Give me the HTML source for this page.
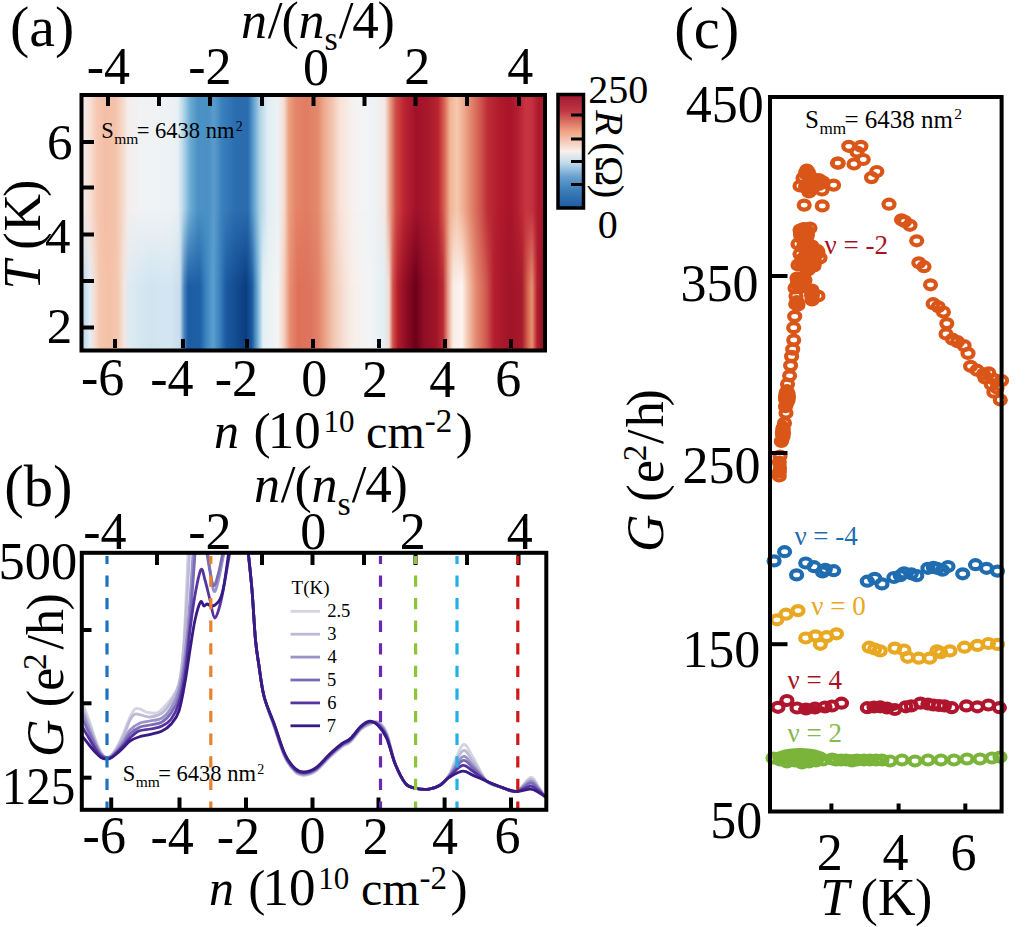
<!DOCTYPE html><html><head><meta charset="utf-8"><style>html,body{margin:0;padding:0;background:#fff;overflow:hidden;width:1025px;height:927px;}svg{display:block;}text{font-family:"Liberation Serif",serif;}</style></head><body><svg width="1025" height="927" viewBox="0 0 1025 927" font-family="Liberation Serif, serif">
<rect width="1025" height="927" fill="#fff"/>
<defs>
<linearGradient id="hu" gradientUnits="userSpaceOnUse" x1="83" y1="0" x2="543" y2="0">
<stop offset="0.0000" stop-color="#f6ece8"/>
<stop offset="0.0152" stop-color="#f8e0d4"/>
<stop offset="0.0304" stop-color="#f6c8b4"/>
<stop offset="0.0478" stop-color="#f4bea6"/>
<stop offset="0.0696" stop-color="#f4c2aa"/>
<stop offset="0.0848" stop-color="#f6d6c6"/>
<stop offset="0.0978" stop-color="#f4eeec"/>
<stop offset="0.1239" stop-color="#f0f2f4"/>
<stop offset="0.1891" stop-color="#eff2f4"/>
<stop offset="0.2065" stop-color="#e6f0f4"/>
<stop offset="0.2174" stop-color="#b8d8ea"/>
<stop offset="0.2326" stop-color="#6cacd4"/>
<stop offset="0.2500" stop-color="#4a92c4"/>
<stop offset="0.2717" stop-color="#4a90c4"/>
<stop offset="0.2848" stop-color="#5a9ccc"/>
<stop offset="0.3022" stop-color="#3a80bc"/>
<stop offset="0.3304" stop-color="#2a6eb0"/>
<stop offset="0.3587" stop-color="#2a6cae"/>
<stop offset="0.3696" stop-color="#5a9ccc"/>
<stop offset="0.3848" stop-color="#b0d4e8"/>
<stop offset="0.4022" stop-color="#e2eef4"/>
<stop offset="0.4239" stop-color="#ecf2f4"/>
<stop offset="0.4370" stop-color="#f4dcd0"/>
<stop offset="0.4478" stop-color="#eca080"/>
<stop offset="0.4630" stop-color="#e4846a"/>
<stop offset="0.4848" stop-color="#e07c62"/>
<stop offset="0.5109" stop-color="#e48a6e"/>
<stop offset="0.5239" stop-color="#ecaa8c"/>
<stop offset="0.5413" stop-color="#f2c4ae"/>
<stop offset="0.5587" stop-color="#f8e2d8"/>
<stop offset="0.5804" stop-color="#f8eeea"/>
<stop offset="0.5978" stop-color="#f4f4f4"/>
<stop offset="0.6348" stop-color="#eef2f6"/>
<stop offset="0.6565" stop-color="#f2e8e4"/>
<stop offset="0.6674" stop-color="#e8a088"/>
<stop offset="0.6804" stop-color="#d04a44"/>
<stop offset="0.6978" stop-color="#bc2432"/>
<stop offset="0.7239" stop-color="#a0122a"/>
<stop offset="0.7500" stop-color="#a8182c"/>
<stop offset="0.7717" stop-color="#b82430"/>
<stop offset="0.7848" stop-color="#d86050"/>
<stop offset="0.7978" stop-color="#f0b494"/>
<stop offset="0.8130" stop-color="#f6c8b0"/>
<stop offset="0.8283" stop-color="#eeaa8c"/>
<stop offset="0.8457" stop-color="#e08068"/>
<stop offset="0.8630" stop-color="#d05a50"/>
<stop offset="0.8804" stop-color="#bc2c36"/>
<stop offset="0.9065" stop-color="#b01a2c"/>
<stop offset="0.9283" stop-color="#a8142a"/>
<stop offset="0.9457" stop-color="#b42030"/>
<stop offset="0.9630" stop-color="#c83440"/>
<stop offset="0.9761" stop-color="#c43040"/>
<stop offset="0.9891" stop-color="#ac1a2c"/>
<stop offset="1.0000" stop-color="#a8182c"/>
</linearGradient>
<linearGradient id="hl" gradientUnits="userSpaceOnUse" x1="83" y1="0" x2="543" y2="0">
<stop offset="0.0000" stop-color="#b8d6ea"/>
<stop offset="0.0152" stop-color="#e4eef4"/>
<stop offset="0.0261" stop-color="#f4dcd0"/>
<stop offset="0.0370" stop-color="#f4c6ac"/>
<stop offset="0.0587" stop-color="#f4c0a6"/>
<stop offset="0.0761" stop-color="#f4c8b0"/>
<stop offset="0.0891" stop-color="#f2e6e2"/>
<stop offset="0.1022" stop-color="#dceaf2"/>
<stop offset="0.1457" stop-color="#d0e4f0"/>
<stop offset="0.1891" stop-color="#d4e6f2"/>
<stop offset="0.2109" stop-color="#c8dcec"/>
<stop offset="0.2196" stop-color="#4a86c0"/>
<stop offset="0.2283" stop-color="#1c5ca4"/>
<stop offset="0.2543" stop-color="#1e60a6"/>
<stop offset="0.2674" stop-color="#3a84c0"/>
<stop offset="0.2826" stop-color="#5aa0d0"/>
<stop offset="0.2978" stop-color="#3a80bc"/>
<stop offset="0.3109" stop-color="#1a5aa0"/>
<stop offset="0.3326" stop-color="#134c90"/>
<stop offset="0.3543" stop-color="#0c3c80"/>
<stop offset="0.3674" stop-color="#1a5aa0"/>
<stop offset="0.3804" stop-color="#7ab4d8"/>
<stop offset="0.3913" stop-color="#e4f0f4"/>
<stop offset="0.4239" stop-color="#f4f4f4"/>
<stop offset="0.4370" stop-color="#f4d0c0"/>
<stop offset="0.4500" stop-color="#e88c72"/>
<stop offset="0.4674" stop-color="#de7058"/>
<stop offset="0.4935" stop-color="#de7460"/>
<stop offset="0.5109" stop-color="#e2806a"/>
<stop offset="0.5283" stop-color="#eca68c"/>
<stop offset="0.5457" stop-color="#f2c8b4"/>
<stop offset="0.5674" stop-color="#f6e0d6"/>
<stop offset="0.5848" stop-color="#f8eee8"/>
<stop offset="0.6239" stop-color="#f2f4f6"/>
<stop offset="0.6543" stop-color="#e2eef4"/>
<stop offset="0.6652" stop-color="#eedcd4"/>
<stop offset="0.6739" stop-color="#d45048"/>
<stop offset="0.6848" stop-color="#b01c2c"/>
<stop offset="0.7022" stop-color="#8e0c24"/>
<stop offset="0.7239" stop-color="#6c0018"/>
<stop offset="0.7413" stop-color="#900e26"/>
<stop offset="0.7674" stop-color="#a01428"/>
<stop offset="0.7826" stop-color="#b82a34"/>
<stop offset="0.7935" stop-color="#e8a088"/>
<stop offset="0.8043" stop-color="#f8ece6"/>
<stop offset="0.8239" stop-color="#fcf4f0"/>
<stop offset="0.8370" stop-color="#f4c4ac"/>
<stop offset="0.8543" stop-color="#e48a72"/>
<stop offset="0.8761" stop-color="#d05a50"/>
<stop offset="0.8935" stop-color="#b41e2e"/>
<stop offset="0.9283" stop-color="#a01428"/>
<stop offset="0.9543" stop-color="#a81a2c"/>
<stop offset="0.9674" stop-color="#d46850"/>
<stop offset="0.9761" stop-color="#e89070"/>
<stop offset="0.9870" stop-color="#b42030"/>
<stop offset="1.0000" stop-color="#901020"/>
</linearGradient>
<linearGradient id="vm" x1="0" y1="0" x2="0" y2="1"><stop offset="0" stop-color="#fff" stop-opacity="0"/><stop offset="0.45" stop-color="#fff" stop-opacity="0"/><stop offset="0.75" stop-color="#fff" stop-opacity="1"/><stop offset="1" stop-color="#fff" stop-opacity="1"/></linearGradient>
<mask id="m1"><rect x="83" y="95" width="460" height="255" fill="url(#vm)"/></mask>
<linearGradient id="cb" x1="0" y1="0" x2="0" y2="1"><stop offset="0" stop-color="#9e1830"/><stop offset="0.15" stop-color="#c03844"/><stop offset="0.32" stop-color="#f0a080"/><stop offset="0.5" stop-color="#f8f0ec"/><stop offset="0.6" stop-color="#c4dcec"/><stop offset="0.72" stop-color="#6aa2d0"/><stop offset="0.85" stop-color="#3a7cb8"/><stop offset="1" stop-color="#1e5aa0"/></linearGradient>
</defs>
<rect x="81" y="95" width="464" height="255" fill="url(#hu)"/>
<rect x="81" y="95" width="464" height="255" fill="url(#hl)" mask="url(#m1)"/>
<rect x="81.5" y="95" width="463.5" height="255.5" fill="none" stroke="#000" stroke-width="4"/>
<line x1="108" y1="97" x2="108" y2="106" stroke="#000" stroke-width="4"/>
<line x1="159" y1="97" x2="159" y2="106" stroke="#000" stroke-width="4"/>
<line x1="210" y1="97" x2="210" y2="106" stroke="#000" stroke-width="4"/>
<line x1="262" y1="97" x2="262" y2="106" stroke="#000" stroke-width="4"/>
<line x1="313.5" y1="97" x2="313.5" y2="106" stroke="#000" stroke-width="4"/>
<line x1="364.5" y1="97" x2="364.5" y2="106" stroke="#000" stroke-width="4"/>
<line x1="415.5" y1="97" x2="415.5" y2="106" stroke="#000" stroke-width="4"/>
<line x1="467" y1="97" x2="467" y2="106" stroke="#000" stroke-width="4"/>
<line x1="519" y1="97" x2="519" y2="106" stroke="#000" stroke-width="4"/>
<line x1="115" y1="348" x2="115" y2="339" stroke="#000" stroke-width="4"/>
<line x1="183" y1="348" x2="183" y2="339" stroke="#000" stroke-width="4"/>
<line x1="247" y1="348" x2="247" y2="339" stroke="#000" stroke-width="4"/>
<line x1="313" y1="348" x2="313" y2="339" stroke="#000" stroke-width="4"/>
<line x1="379" y1="348" x2="379" y2="339" stroke="#000" stroke-width="4"/>
<line x1="445" y1="348" x2="445" y2="339" stroke="#000" stroke-width="4"/>
<line x1="511" y1="348" x2="511" y2="339" stroke="#000" stroke-width="4"/>
<line x1="83" y1="142" x2="94" y2="142" stroke="#000" stroke-width="4"/>
<line x1="83" y1="187.5" x2="94" y2="187.5" stroke="#000" stroke-width="4"/>
<line x1="83" y1="234.5" x2="94" y2="234.5" stroke="#000" stroke-width="4"/>
<line x1="83" y1="281" x2="94" y2="281" stroke="#000" stroke-width="4"/>
<line x1="83" y1="327.5" x2="94" y2="327.5" stroke="#000" stroke-width="4"/>
<rect x="558" y="94.5" width="25.5" height="113.5" fill="url(#cb)" stroke="#000" stroke-width="3.5"/>
<line x1="571" y1="115" x2="583" y2="115" stroke="#000" stroke-width="3"/>
<line x1="571" y1="139" x2="583" y2="139" stroke="#000" stroke-width="3"/>
<line x1="571" y1="161.5" x2="583" y2="161.5" stroke="#000" stroke-width="3"/>
<line x1="571" y1="184.5" x2="583" y2="184.5" stroke="#000" stroke-width="3"/>
<text x="10.1" y="46.1" font-size="57.8" style="" fill="#000" >(a)</text>
<text x="86.8" y="83.7" font-size="52.0" style="" fill="#000" >-4</text>
<text x="188.2" y="83.7" font-size="52.0" style="" fill="#000" >-2</text>
<text x="303.0" y="84.5" font-size="52.0" style="" fill="#000" >0</text>
<text x="404.3" y="84.0" font-size="52.0" style="" fill="#000" >2</text>
<text x="507.3" y="84.0" font-size="52.0" style="" fill="#000" >4</text>
<text x="47.0" y="158.5" font-size="51.0" style="" fill="#000" >6</text>
<text x="45.0" y="252.8" font-size="51.0" style="" fill="#000" >4</text>
<text x="46.7" y="342.6" font-size="51.0" style="" fill="#000" >2</text>
<text x="81.0" y="395.1" font-size="52.0" style="" fill="#000" >-6</text>
<text x="150.2" y="395.6" font-size="52.0" style="" fill="#000" >-4</text>
<text x="214.7" y="395.6" font-size="52.0" style="" fill="#000" >-2</text>
<text x="301.3" y="396.1" font-size="52.0" style="" fill="#000" >0</text>
<text x="362.1" y="396.6" font-size="52.0" style="" fill="#000" >2</text>
<text x="429.2" y="396.6" font-size="52.0" style="" fill="#000" >4</text>
<text x="495.2" y="396.1" font-size="52.0" style="" fill="#000" >6</text>
<text x="588.2" y="102.6" font-size="40.0" style="" fill="#000" >250</text>
<text x="597.8" y="237.6" font-size="40.0" style="" fill="#000" >0</text>
<text x="241.1" y="37.8" font-size="52.0" style="font-style:italic;" fill="#000" >n</text>
<text x="267.8" y="37.8" font-size="53.0" style="" fill="#000" >/</text>
<text x="281.5" y="37.8" font-size="52.0" style="" fill="#000" >(</text>
<text x="298.4" y="37.8" font-size="52.0" style="font-style:italic;" fill="#000" >n</text>
<text x="324.6" y="50.0" font-size="34.0" style="" fill="#000" >s</text>
<text x="338.8" y="37.8" font-size="53.0" style="" fill="#000" >/</text>
<text x="352.2" y="37.8" font-size="53.0" style="" fill="#000" >4</text>
<text x="377.4" y="37.8" font-size="52.0" style="" fill="#000" >)</text>
<text x="214.1" y="447.5" font-size="50.0" style="font-style:italic;" fill="#000" >n</text>
<text x="253.4" y="447.5" font-size="51.5" style="" fill="#000" >(</text>
<text x="267.7" y="447.5" font-size="53.0" style="" fill="#000" >10</text>
<text x="323.5" y="431.6" font-size="31.0" style="" fill="#000" >10</text>
<text x="366.1" y="447.5" font-size="48.0" style="" fill="#000" >cm</text>
<text x="424.8" y="431.6" font-size="33.0" style="" fill="#000" >-2</text>
<text x="455.8" y="447.5" font-size="51.5" style="" fill="#000" >)</text>
<g transform="translate(39.6,289.8) rotate(-90)">
<text x="0.2" y="0.0" font-size="52.0" style="font-style:italic;" fill="#000" >T</text>
<text x="40.1" y="0.0" font-size="52.0" style="" fill="#000" >(</text>
<text x="58.4" y="0.0" font-size="52.0" style="" fill="#000" >K</text>
<text x="92.9" y="0.0" font-size="52.0" style="" fill="#000" >)</text>
</g>
<g transform="translate(596.2,108) rotate(90)">
<text x="2.2" y="0.0" font-size="41.0" style="font-style:italic;" fill="#000" >R</text>
<text x="34.2" y="0.0" font-size="41.0" style="" fill="#000" >(</text>
<text x="48.0" y="0.0" font-size="41.0" style="" fill="#000" >Ω</text>
<text x="76.8" y="0.0" font-size="41.0" style="" fill="#000" >)</text>
</g>
<text x="101.3" y="138.4" font-size="22.5" style="" fill="#000" >S</text>
<text x="114.2" y="143.9" font-size="15.5" style="" fill="#000" >mm</text>
<text x="136.8" y="138.4" font-size="22.5" style="" fill="#000" >= 6438 nm</text>
<text x="235.7" y="130.6" font-size="14.0" style="" fill="#000" >2</text>
<text x="4.3" y="506.0" font-size="58.5" style="" fill="#000" >(b)</text>
<text x="254.1" y="502.3" font-size="52.0" style="font-style:italic;" fill="#000" >n</text>
<text x="280.8" y="502.3" font-size="53.0" style="" fill="#000" >/</text>
<text x="294.5" y="502.3" font-size="52.0" style="" fill="#000" >(</text>
<text x="311.4" y="502.3" font-size="52.0" style="font-style:italic;" fill="#000" >n</text>
<text x="337.6" y="514.5" font-size="34.0" style="" fill="#000" >s</text>
<text x="351.8" y="502.3" font-size="53.0" style="" fill="#000" >/</text>
<text x="365.2" y="502.3" font-size="53.0" style="" fill="#000" >4</text>
<text x="390.4" y="502.3" font-size="52.0" style="" fill="#000" >)</text>
<text x="83.2" y="549.0" font-size="52.0" style="" fill="#000" >-4</text>
<text x="188.2" y="549.0" font-size="52.0" style="" fill="#000" >-2</text>
<text x="300.3" y="548.5" font-size="52.0" style="" fill="#000" >0</text>
<text x="399.7" y="549.0" font-size="52.0" style="" fill="#000" >2</text>
<text x="506.7" y="549.0" font-size="52.0" style="" fill="#000" >4</text>
<text x="-1.4" y="579.3" font-size="52.5" style="" fill="#000" >500</text>
<text transform="translate(1.7,804.1) scale(0.919,1)" font-size="53.5" style="" fill="#000" >125</text>
<text x="82.6" y="853.4" font-size="52.0" style="" fill="#000" >-6</text>
<text x="150.4" y="853.9" font-size="52.0" style="" fill="#000" >-4</text>
<text x="216.7" y="853.9" font-size="52.0" style="" fill="#000" >-2</text>
<text x="299.4" y="853.4" font-size="52.0" style="" fill="#000" >0</text>
<text x="362.7" y="853.9" font-size="52.0" style="" fill="#000" >2</text>
<text x="432.0" y="853.9" font-size="52.0" style="" fill="#000" >4</text>
<text x="494.5" y="853.4" font-size="52.0" style="" fill="#000" >6</text>
<text x="208.9" y="904.9" font-size="50.0" style="font-style:italic;" fill="#000" >n</text>
<text x="248.2" y="904.9" font-size="51.5" style="" fill="#000" >(</text>
<text x="262.5" y="904.9" font-size="53.0" style="" fill="#000" >10</text>
<text x="318.3" y="889.0" font-size="31.0" style="" fill="#000" >10</text>
<text x="360.9" y="904.9" font-size="48.0" style="" fill="#000" >cm</text>
<text x="419.6" y="889.0" font-size="33.0" style="" fill="#000" >-2</text>
<text x="450.6" y="904.9" font-size="51.5" style="" fill="#000" >)</text>
<g transform="translate(62.5,757) rotate(-90)">
<text x="-0.1" y="0.0" font-size="52.0" style="font-style:italic;" fill="#000" >G</text>
<text x="49.7" y="0.0" font-size="52.0" style="" fill="#000" >(</text>
<text x="66.3" y="0.0" font-size="52.0" style="" fill="#000" >e</text>
<text x="87.0" y="-17.0" font-size="33.0" style="" fill="#000" >2</text>
<text x="107.5" y="0.0" font-size="52.0" style="" fill="#000" >/</text>
<text x="121.9" y="0.0" font-size="52.0" style="" fill="#000" >h</text>
<text x="146.4" y="0.0" font-size="52.0" style="" fill="#000" >)</text>
</g>
<text x="122.8" y="781.3" font-size="22.5" style="" fill="#000" >S</text>
<text x="135.7" y="786.8" font-size="15.5" style="" fill="#000" >mm</text>
<text x="158.3" y="781.3" font-size="22.5" style="" fill="#000" >= 6438 nm</text>
<text x="257.2" y="773.5" font-size="14.0" style="" fill="#000" >2</text>
<text x="291.6" y="593.5" font-size="19.0" style="" fill="#000" >T(K)</text>
<line x1="290.5" y1="611.3" x2="320" y2="611.3" stroke="#d4d4e2" stroke-width="2.8"/>
<text x="327.2" y="617.3" font-size="18.5" style="" fill="#000" >2.5</text>
<line x1="290.5" y1="634.2" x2="320" y2="634.2" stroke="#bcbad6" stroke-width="2.8"/>
<text x="327.2" y="640.2" font-size="18.5" style="" fill="#000" >3</text>
<line x1="290.5" y1="657.1" x2="320" y2="657.1" stroke="#9a92c8" stroke-width="2.8"/>
<text x="327.6" y="663.1" font-size="18.5" style="" fill="#000" >4</text>
<line x1="290.5" y1="680.0" x2="320" y2="680.0" stroke="#7a6cb6" stroke-width="2.8"/>
<text x="326.9" y="686.0" font-size="18.5" style="" fill="#000" >5</text>
<line x1="290.5" y1="702.9" x2="320" y2="702.9" stroke="#5634a0" stroke-width="2.8"/>
<text x="327.3" y="708.9" font-size="18.5" style="" fill="#000" >6</text>
<line x1="290.5" y1="725.8" x2="320" y2="725.8" stroke="#381a84" stroke-width="2.8"/>
<text x="326.8" y="731.8" font-size="18.5" style="" fill="#000" >7</text>
<g fill="none" stroke-linejoin="round" stroke-linecap="round">
<path d="M83.0,704.0 C84.2,707.2 87.8,716.8 90.0,723.0 C92.2,729.2 94.2,736.2 96.0,741.0 C97.8,745.8 99.3,749.2 101.0,752.0 C102.7,754.8 104.3,756.9 106.0,757.5 C107.7,758.1 109.2,757.2 111.0,755.5 C112.8,753.8 114.8,750.9 117.0,747.0 C119.2,743.1 121.8,737.0 124.0,732.0 C126.2,727.0 128.2,720.8 130.0,717.0 C131.8,713.2 133.3,710.3 135.0,709.0 C136.7,707.7 138.2,708.5 140.0,709.0 C141.8,709.5 144.0,711.3 146.0,712.0 C148.0,712.7 150.0,712.9 152.0,713.0 C154.0,713.1 155.7,713.8 158.0,712.5 C160.3,711.2 163.2,708.2 166.0,705.0 C168.8,701.8 172.6,697.5 175.0,693.0 C177.4,688.5 178.8,686.8 180.3,678.0 C181.8,669.2 182.7,660.7 184.0,640.0 C185.3,619.3 187.3,568.3 188.0,554.0" stroke="#d4d4e2" stroke-width="2.8"/>
<path d="M248.4,554.0 C249.0,560.0 250.8,575.7 252.0,590.0 C253.2,604.3 254.3,627.3 255.5,640.0 C256.7,652.7 257.6,656.5 259.0,666.0 C260.4,675.5 261.6,686.6 264.2,697.0 C266.8,707.4 271.1,718.0 274.5,728.1 C277.9,738.2 281.4,750.2 284.9,757.5 C288.3,764.8 292.0,769.1 295.2,772.1 C298.4,775.1 300.4,775.6 303.9,775.5 C307.4,775.4 311.7,774.2 316.0,771.2 C320.3,768.2 325.4,761.5 329.7,757.5 C334.0,753.5 338.3,749.7 341.8,747.1 C345.3,744.5 347.3,744.8 350.5,741.9 C353.7,739.0 357.7,732.7 360.8,729.8 C363.9,726.9 366.5,726.0 369.4,724.6 C372.3,723.2 375.1,720.3 378.0,721.7 C380.9,723.0 383.8,725.5 386.7,732.7 C389.6,739.8 392.1,755.8 395.3,764.3 C398.5,772.8 402.2,779.7 405.6,783.7 C409.0,787.7 411.9,787.4 415.8,788.3 C419.7,789.2 425.0,789.6 429.0,789.1 C433.0,788.6 436.6,787.6 440.0,785.2 C443.4,782.8 445.5,781.1 449.3,774.4 C453.1,767.8 458.7,748.1 462.6,745.1 C466.5,742.2 468.7,750.8 472.7,756.8 C476.7,762.9 481.9,776.2 486.8,781.3 C491.8,786.4 497.5,785.9 502.4,787.6 C507.3,789.3 511.7,793.2 516.4,791.5 C521.1,789.8 526.9,778.1 530.5,777.3 C534.1,776.4 536.0,783.1 538.3,786.3 C540.6,789.4 543.5,794.5 544.5,796.2" stroke="#d4d4e2" stroke-width="2.8"/>
<path d="M83.0,709.0 C84.2,712.0 87.8,721.3 90.0,727.0 C92.2,732.7 94.2,738.7 96.0,743.0 C97.8,747.3 99.3,750.6 101.0,753.0 C102.7,755.4 104.3,757.0 106.0,757.5 C107.7,758.0 109.2,757.6 111.0,756.0 C112.8,754.4 114.8,751.5 117.0,748.0 C119.2,744.5 121.8,739.7 124.0,735.0 C126.2,730.3 128.2,723.5 130.0,720.0 C131.8,716.5 133.2,714.8 135.0,714.0 C136.8,713.2 138.5,714.5 141.0,715.0 C143.5,715.5 146.5,717.3 150.0,717.0 C153.5,716.7 158.5,715.5 162.0,713.0 C165.5,710.5 168.2,706.8 171.0,702.0 C173.8,697.2 176.8,693.5 179.0,684.0 C181.2,674.5 182.2,666.7 184.0,645.0 C185.8,623.3 188.6,569.2 189.5,554.0" stroke="#bcbad6" stroke-width="2.8"/>
<path d="M248.4,554.0 C249.0,560.0 250.8,575.7 252.0,590.0 C253.2,604.3 254.3,627.3 255.5,640.0 C256.7,652.7 257.6,656.5 259.0,666.0 C260.4,675.5 261.6,686.8 264.2,697.0 C266.8,707.2 271.1,717.4 274.5,727.4 C277.9,737.4 281.4,749.5 284.9,756.8 C288.3,764.1 292.0,768.4 295.2,771.4 C298.4,774.4 300.4,774.9 303.9,774.8 C307.4,774.6 311.7,773.5 316.0,770.5 C320.3,767.5 325.4,760.8 329.7,756.8 C334.0,752.8 338.3,749.0 341.8,746.4 C345.3,743.8 347.3,744.1 350.5,741.2 C353.7,738.3 357.7,732.0 360.8,729.1 C363.9,726.2 366.5,725.0 369.4,723.9 C372.3,722.8 375.1,720.8 378.0,722.4 C380.9,724.1 383.8,726.8 386.7,733.8 C389.6,740.8 392.1,756.0 395.3,764.3 C398.5,772.6 402.2,779.7 405.6,783.7 C409.0,787.7 411.9,787.4 415.8,788.3 C419.7,789.2 425.0,789.6 429.0,789.1 C433.0,788.6 436.6,787.5 440.0,785.2 C443.4,782.9 445.5,780.8 449.3,775.1 C453.1,769.4 458.7,753.3 462.6,750.9 C466.5,748.6 468.7,755.8 472.7,760.9 C476.7,765.9 481.9,776.8 486.8,781.3 C491.8,785.8 497.5,785.9 502.4,787.6 C507.3,789.3 511.7,792.9 516.4,791.5 C521.1,790.1 526.9,779.9 530.5,779.2 C534.1,778.5 536.0,784.4 538.3,787.3 C540.6,790.1 543.5,794.7 544.5,796.2" stroke="#bcbad6" stroke-width="2.8"/>
<path d="M83.0,714.0 C84.2,716.8 87.8,725.8 90.0,731.0 C92.2,736.2 94.2,741.2 96.0,745.0 C97.8,748.8 99.3,751.9 101.0,754.0 C102.7,756.1 104.3,757.1 106.0,757.5 C107.7,757.9 109.2,757.8 111.0,756.5 C112.8,755.2 114.8,752.8 117.0,750.0 C119.2,747.2 121.8,743.3 124.0,740.0 C126.2,736.7 127.3,732.8 130.0,730.0 C132.7,727.2 136.7,724.5 140.0,723.0 C143.3,721.5 146.3,721.8 150.0,721.0 C153.7,720.2 158.5,720.2 162.0,718.0 C165.5,715.8 168.2,712.7 171.0,708.0 C173.8,703.3 176.7,698.8 179.0,690.0 C181.3,681.2 183.2,670.0 185.0,655.0 C186.8,640.0 188.7,616.8 190.0,600.0 C191.3,583.2 192.5,561.7 193.0,554.0" stroke="#9a92c8" stroke-width="2.8"/>
<path d="M208.0,554.0 C208.9,560.0 211.7,585.3 213.4,590.0 C215.1,594.7 216.3,588.0 218.0,582.0 C219.7,576.0 222.8,558.7 223.8,554.0" stroke="#9a92c8" stroke-width="2.8"/>
<path d="M248.4,554.0 C249.0,560.0 250.8,575.7 252.0,590.0 C253.2,604.3 254.3,627.3 255.5,640.0 C256.7,652.7 257.6,656.5 259.0,666.0 C260.4,675.5 261.6,686.9 264.2,697.0 C266.8,707.1 271.1,716.9 274.5,726.7 C277.9,736.6 281.4,748.8 284.9,756.1 C288.3,763.4 292.0,767.7 295.2,770.7 C298.4,773.7 300.4,774.2 303.9,774.1 C307.4,774.0 311.7,772.8 316.0,769.8 C320.3,766.8 325.4,760.1 329.7,756.1 C334.0,752.1 338.3,748.3 341.8,745.7 C345.3,743.1 347.3,743.4 350.5,740.5 C353.7,737.6 357.7,731.3 360.8,728.4 C363.9,725.5 366.5,724.1 369.4,723.2 C372.3,722.3 375.1,721.2 378.0,723.2 C380.9,725.1 383.8,728.1 386.7,735.0 C389.6,741.8 392.1,756.2 395.3,764.3 C398.5,772.4 402.2,779.7 405.6,783.7 C409.0,787.7 411.9,787.4 415.8,788.3 C419.7,789.2 425.0,789.6 429.0,789.1 C433.0,788.6 436.6,787.4 440.0,785.2 C443.4,783.0 445.5,780.5 449.3,775.8 C453.1,771.0 458.7,758.5 462.6,756.7 C466.5,754.9 468.7,760.9 472.7,764.9 C476.7,769.0 481.9,777.5 486.8,781.3 C491.8,785.1 497.5,785.9 502.4,787.6 C507.3,789.3 511.7,792.6 516.4,791.5 C521.1,790.4 526.9,781.8 530.5,781.2 C534.1,780.7 536.0,785.8 538.3,788.2 C540.6,790.7 543.5,794.9 544.5,796.2" stroke="#9a92c8" stroke-width="2.8"/>
<path d="M83.0,720.0 C84.2,722.5 87.8,730.5 90.0,735.0 C92.2,739.5 94.2,743.7 96.0,747.0 C97.8,750.3 99.3,753.2 101.0,755.0 C102.7,756.8 104.3,757.7 106.0,758.0 C107.7,758.3 109.2,758.1 111.0,757.0 C112.8,755.9 114.8,753.8 117.0,751.5 C119.2,749.2 121.8,745.9 124.0,743.0 C126.2,740.1 127.3,736.7 130.0,734.0 C132.7,731.3 136.6,728.5 140.0,727.0 C143.4,725.5 146.8,725.8 150.5,725.0 C154.2,724.2 158.6,724.0 162.0,722.0 C165.4,720.0 168.2,717.2 171.0,713.0 C173.8,708.8 176.7,705.0 179.0,697.0 C181.3,689.0 183.2,677.8 185.0,665.0 C186.8,652.2 188.3,638.5 190.0,620.0 C191.7,601.5 194.2,565.0 195.0,554.0" stroke="#7a6cb6" stroke-width="2.8"/>
<path d="M207.0,554.0 C208.0,559.2 211.2,581.5 213.0,585.0 C214.8,588.5 216.4,580.2 218.0,575.0 C219.6,569.8 221.8,557.5 222.5,554.0" stroke="#7a6cb6" stroke-width="2.8"/>
<path d="M248.4,554.0 C249.0,560.0 250.8,575.7 252.0,590.0 C253.2,604.3 254.3,627.3 255.5,640.0 C256.7,652.7 257.6,656.5 259.0,666.0 C260.4,675.5 261.6,687.0 264.2,697.0 C266.8,707.0 271.1,716.3 274.5,726.0 C277.9,735.7 281.4,748.1 284.9,755.4 C288.3,762.7 292.0,767.0 295.2,770.0 C298.4,773.0 300.4,773.5 303.9,773.4 C307.4,773.2 311.7,772.1 316.0,769.1 C320.3,766.1 325.4,759.4 329.7,755.4 C334.0,751.4 338.3,747.6 341.8,745.0 C345.3,742.4 347.3,742.7 350.5,739.8 C353.7,736.9 357.7,730.6 360.8,727.7 C363.9,724.8 366.5,723.1 369.4,722.5 C372.3,721.9 375.1,721.6 378.0,723.9 C380.9,726.2 383.8,729.4 386.7,736.1 C389.6,742.8 392.1,756.4 395.3,764.3 C398.5,772.2 402.2,779.7 405.6,783.7 C409.0,787.7 411.9,787.4 415.8,788.3 C419.7,789.2 425.0,789.6 429.0,789.1 C433.0,788.6 436.6,787.4 440.0,785.2 C443.4,783.0 445.5,780.3 449.3,776.2 C453.1,772.1 458.7,762.0 462.6,760.6 C466.5,759.2 468.7,764.2 472.7,767.7 C476.7,771.1 481.9,778.0 486.8,781.3 C491.8,784.6 497.5,785.9 502.4,787.6 C507.3,789.3 511.7,792.2 516.4,791.5 C521.1,790.8 526.9,783.6 530.5,783.2 C534.1,782.8 536.0,787.1 538.3,789.2 C540.6,791.4 543.5,795.0 544.5,796.2" stroke="#7a6cb6" stroke-width="2.8"/>
<path d="M83.0,728.0 C84.2,730.0 87.8,736.3 90.0,740.0 C92.2,743.7 94.2,747.3 96.0,750.0 C97.8,752.7 99.3,754.6 101.0,756.0 C102.7,757.4 104.3,758.2 106.0,758.5 C107.7,758.8 109.2,758.5 111.0,757.5 C112.8,756.5 114.8,754.6 117.0,752.5 C119.2,750.4 121.8,747.4 124.0,745.0 C126.2,742.6 127.5,740.3 130.0,738.0 C132.5,735.7 135.4,732.5 138.8,731.0 C142.2,729.5 146.6,729.8 150.5,729.0 C154.4,728.2 158.6,727.7 162.0,726.0 C165.4,724.3 168.4,722.8 171.2,719.0 C174.0,715.2 176.6,710.8 179.0,703.0 C181.4,695.2 183.6,684.2 185.4,672.0 C187.2,659.8 188.4,642.8 190.0,630.0 C191.6,617.2 193.2,605.1 195.0,595.0 C196.8,584.9 199.3,572.1 201.0,569.6 C202.7,567.1 203.5,574.9 205.0,580.0 C206.5,585.1 208.4,593.7 210.0,600.0 C211.6,606.3 212.9,617.5 214.7,618.0 C216.4,618.5 218.8,609.3 220.5,603.0 C222.2,596.7 223.5,588.2 225.0,580.0 C226.5,571.8 228.8,558.3 229.5,554.0" stroke="#5634a0" stroke-width="2.8"/>
<path d="M248.4,554.0 C249.0,560.0 250.8,575.7 252.0,590.0 C253.2,604.3 254.3,627.3 255.5,640.0 C256.7,652.7 257.6,656.5 259.0,666.0 C260.4,675.5 261.6,687.1 264.2,697.0 C266.8,706.9 271.1,715.7 274.5,725.3 C277.9,734.9 281.4,747.4 284.9,754.7 C288.3,762.0 292.0,766.3 295.2,769.3 C298.4,772.3 300.4,772.9 303.9,772.7 C307.4,772.6 311.7,771.4 316.0,768.4 C320.3,765.4 325.4,758.7 329.7,754.7 C334.0,750.7 338.3,746.9 341.8,744.3 C345.3,741.7 347.3,742.0 350.5,739.1 C353.7,736.2 357.7,729.9 360.8,727.0 C363.9,724.1 366.5,722.2 369.4,721.8 C372.3,721.4 375.1,722.1 378.0,724.7 C380.9,727.2 383.8,730.6 386.7,737.3 C389.6,743.9 392.1,756.6 395.3,764.3 C398.5,772.0 402.2,779.7 405.6,783.7 C409.0,787.7 411.9,787.4 415.8,788.3 C419.7,789.2 425.0,789.6 429.0,789.1 C433.0,788.6 436.6,787.3 440.0,785.2 C443.4,783.1 445.5,780.0 449.3,776.7 C453.1,773.4 458.7,766.4 462.6,765.4 C466.5,764.5 468.7,768.4 472.7,771.0 C476.7,773.7 481.9,778.5 486.8,781.3 C491.8,784.1 497.5,785.9 502.4,787.6 C507.3,789.3 511.7,791.7 516.4,791.5 C521.1,791.3 526.9,786.3 530.5,786.1 C534.1,786.0 536.0,789.0 538.3,790.7 C540.6,792.4 543.5,795.3 544.5,796.2" stroke="#5634a0" stroke-width="2.8"/>
<path d="M83.0,737.0 C84.2,738.5 87.8,743.3 90.0,746.0 C92.2,748.7 94.2,751.1 96.0,753.0 C97.8,754.9 99.3,756.5 101.0,757.5 C102.7,758.5 104.3,758.9 106.0,759.0 C107.7,759.1 109.2,758.9 111.0,758.0 C112.8,757.1 114.8,755.3 117.0,753.5 C119.2,751.7 121.8,749.1 124.0,747.0 C126.2,744.9 127.5,742.7 130.0,741.0 C132.5,739.3 135.4,738.1 138.8,737.0 C142.2,735.9 146.6,735.4 150.5,734.4 C154.4,733.4 158.6,732.7 162.0,731.0 C165.4,729.3 168.4,727.3 171.2,724.0 C174.0,720.7 176.6,718.3 179.0,711.0 C181.4,703.7 183.6,690.2 185.4,680.0 C187.2,669.8 188.4,660.0 190.0,650.0 C191.6,640.0 193.2,628.0 195.0,620.0 C196.8,612.0 199.0,604.3 200.5,602.0 C202.0,599.7 202.9,605.7 204.0,606.0 C205.1,606.3 205.8,604.0 207.0,604.0 C208.2,604.0 209.7,605.8 211.0,606.0 C212.3,606.2 213.5,606.1 215.0,605.0 C216.5,603.9 218.5,602.7 220.0,599.4 C221.5,596.1 222.6,592.6 224.0,585.0 C225.4,577.4 227.8,559.2 228.5,554.0" stroke="#381a84" stroke-width="2.8"/>
<path d="M248.4,554.0 C249.0,560.0 250.8,575.7 252.0,590.0 C253.2,604.3 254.3,627.3 255.5,640.0 C256.7,652.7 257.6,656.5 259.0,666.0 C260.4,675.5 261.6,687.2 264.2,697.0 C266.8,706.8 271.1,715.1 274.5,724.6 C277.9,734.1 281.4,746.7 284.9,754.0 C288.3,761.3 292.0,765.6 295.2,768.6 C298.4,771.6 300.4,772.1 303.9,772.0 C307.4,771.9 311.7,770.7 316.0,767.7 C320.3,764.7 325.4,758.0 329.7,754.0 C334.0,750.0 338.3,746.2 341.8,743.6 C345.3,741.0 347.3,741.3 350.5,738.4 C353.7,735.5 357.7,729.2 360.8,726.3 C363.9,723.4 366.5,721.2 369.4,721.1 C372.3,721.0 375.1,722.5 378.0,725.4 C380.9,728.3 383.8,731.9 386.7,738.4 C389.6,744.9 392.1,756.8 395.3,764.3 C398.5,771.8 402.2,779.7 405.6,783.7 C409.0,787.7 411.9,787.4 415.8,788.3 C419.7,789.2 425.0,789.6 429.0,789.1 C433.0,788.6 436.6,787.2 440.0,785.2 C443.4,783.2 445.5,779.7 449.3,777.4 C453.1,775.1 458.7,771.6 462.6,771.2 C466.5,770.8 468.7,773.4 472.7,775.1 C476.7,776.8 481.9,779.2 486.8,781.3 C491.8,783.4 497.5,785.9 502.4,787.6 C507.3,789.3 511.7,791.2 516.4,791.5 C521.1,791.8 526.9,789.0 530.5,789.1 C534.1,789.2 536.0,791.0 538.3,792.2 C540.6,793.4 543.5,795.5 544.5,796.2" stroke="#381a84" stroke-width="2.8"/>
</g>
<line x1="157" y1="554" x2="157" y2="565" stroke="#000" stroke-width="4"/>
<line x1="262" y1="554" x2="262" y2="565" stroke="#000" stroke-width="4"/>
<line x1="312.5" y1="554" x2="312.5" y2="565" stroke="#000" stroke-width="4"/>
<line x1="364" y1="554" x2="364" y2="565" stroke="#000" stroke-width="4"/>
<line x1="415.5" y1="554" x2="415.5" y2="565" stroke="#000" stroke-width="4"/>
<line x1="467" y1="554" x2="467" y2="565" stroke="#000" stroke-width="4"/>
<line x1="518.5" y1="554" x2="518.5" y2="565" stroke="#000" stroke-width="4"/>
<line x1="111.2" y1="808" x2="111.2" y2="797.5" stroke="#000" stroke-width="4"/>
<line x1="179.5" y1="808" x2="179.5" y2="797.5" stroke="#000" stroke-width="4"/>
<line x1="246" y1="808" x2="246" y2="797.5" stroke="#000" stroke-width="4"/>
<line x1="312.5" y1="808" x2="312.5" y2="797.5" stroke="#000" stroke-width="4"/>
<line x1="378.5" y1="808" x2="378.5" y2="797.5" stroke="#000" stroke-width="4"/>
<line x1="444.6" y1="808" x2="444.6" y2="797.5" stroke="#000" stroke-width="4"/>
<line x1="511" y1="808" x2="511" y2="797.5" stroke="#000" stroke-width="4"/>
<line x1="83" y1="630" x2="91.5" y2="630" stroke="#000" stroke-width="4"/>
<line x1="83" y1="703.3" x2="91.5" y2="703.3" stroke="#000" stroke-width="4"/>
<line x1="83" y1="777.7" x2="91.5" y2="777.7" stroke="#000" stroke-width="4"/>
<line x1="107" y1="556" x2="107" y2="808" stroke="#1a72c0" stroke-width="3.2" stroke-dasharray="11.3 11.3" stroke-dashoffset="3.2"/>
<line x1="210.8" y1="556" x2="210.8" y2="808" stroke="#e8822e" stroke-width="3.2" stroke-dasharray="11.3 11.3" stroke-dashoffset="3.2"/>
<line x1="380.5" y1="556" x2="380.5" y2="808" stroke="#6a2ab0" stroke-width="3.2" stroke-dasharray="11.3 11.3" stroke-dashoffset="3.2"/>
<line x1="415.6" y1="556" x2="415.6" y2="808" stroke="#8cc43c" stroke-width="3.2" stroke-dasharray="11.3 11.3" stroke-dashoffset="3.2"/>
<line x1="457" y1="556" x2="457" y2="808" stroke="#22b0e6" stroke-width="3.2" stroke-dasharray="11.3 11.3" stroke-dashoffset="3.2"/>
<line x1="517.8" y1="556" x2="517.8" y2="808" stroke="#d01818" stroke-width="3.2" stroke-dasharray="11.3 11.3" stroke-dashoffset="3.2"/>
<rect x="81.8" y="552.8" width="464.5" height="257" fill="none" stroke="#000" stroke-width="4"/>
<text x="674.3" y="47.5" font-size="58.5" style="" fill="#000" >(c)</text>
<text x="685.7" y="122.4" font-size="52.0" style="" fill="#000" >450</text>
<text x="680.4" y="300.9" font-size="52.0" style="" fill="#000" >350</text>
<text x="682.5" y="483.1" font-size="52.0" style="" fill="#000" >250</text>
<text x="682.2" y="666.5" font-size="52.0" style="" fill="#000" >150</text>
<text x="710.3" y="837.8" font-size="52.0" style="" fill="#000" >50</text>
<text x="816.7" y="870.2" font-size="52.0" style="" fill="#000" >2</text>
<text x="882.4" y="870.2" font-size="52.0" style="" fill="#000" >4</text>
<text x="950.4" y="869.5" font-size="52.0" style="" fill="#000" >6</text>
<g transform="translate(820.7,914.5)">
<text x="-0.4" y="0.0" font-size="52.0" style="font-style:italic;" fill="#000" >T</text>
<text x="39.7" y="0.0" font-size="52.0" style="" fill="#000" >(</text>
<text x="57.4" y="0.0" font-size="52.0" style="" fill="#000" >K</text>
<text x="94.4" y="0.0" font-size="52.0" style="" fill="#000" >)</text>
</g>
<g transform="translate(662.6,551.8) rotate(-90)">
<text x="-0.1" y="0.0" font-size="52.0" style="font-style:italic;" fill="#000" >G</text>
<text x="50.1" y="0.0" font-size="52.0" style="" fill="#000" >(</text>
<text x="68.7" y="0.0" font-size="52.0" style="" fill="#000" >e</text>
<text x="90.5" y="-17.0" font-size="33.0" style="" fill="#000" >2</text>
<text x="107.8" y="0.0" font-size="52.0" style="" fill="#000" >/</text>
<text x="124.5" y="0.0" font-size="52.0" style="" fill="#000" >h</text>
<text x="145.2" y="0.0" font-size="52.0" style="" fill="#000" >)</text>
</g>
<text x="805.1" y="128.1" font-size="25.0" style="" fill="#000" >S</text>
<text x="819.4" y="134.2" font-size="17.2" style="" fill="#000" >mm</text>
<text x="844.5" y="128.1" font-size="25.0" style="" fill="#000" >= 6438 nm</text>
<text x="954.3" y="119.4" font-size="15.6" style="" fill="#000" >2</text>
<ellipse cx="807" cy="173" rx="9" ry="8" fill="#da5618"/>
<ellipse cx="819" cy="182" rx="9" ry="9" fill="#da5618"/>
<ellipse cx="808" cy="187" rx="10" ry="8" fill="#da5618"/>
<ellipse cx="804" cy="234" rx="11" ry="12" fill="#da5618"/>
<ellipse cx="818" cy="252" rx="7" ry="8" fill="#da5618"/>
<ellipse cx="808" cy="262" rx="14" ry="12" fill="#da5618"/>
<ellipse cx="806" cy="247" rx="10" ry="8" fill="#da5618"/>
<ellipse cx="800" cy="283" rx="10" ry="11" fill="#da5618"/>
<ellipse cx="812" cy="295" rx="8" ry="9" fill="#da5618"/>
<ellipse cx="797" cy="303" rx="8" ry="8" fill="#da5618"/>
<ellipse cx="787" cy="397" rx="9" ry="13" fill="#da5618"/>
<ellipse cx="783" cy="433" rx="8" ry="13" fill="#da5618"/>
<ellipse cx="780" cy="468" rx="7" ry="10" fill="#da5618"/>
<ellipse cx="800" cy="757" rx="28" ry="9" fill="#7ab43a"/>
<ellipse cx="856" cy="759" rx="24" ry="5" fill="#7ab43a"/>
<ellipse cx="812" cy="709" rx="14" ry="4" fill="#b0152e"/>
<ellipse cx="884" cy="708" rx="15" ry="4" fill="#b0152e"/>
<g>
<ellipse cx="848.8" cy="146.3" rx="5.5" ry="4.5" fill="none" stroke="#da5618" stroke-width="4.2"/>
<ellipse cx="860.9" cy="146.3" rx="5.5" ry="4.5" fill="none" stroke="#da5618" stroke-width="4.2"/>
<ellipse cx="837.5" cy="163.0" rx="5.5" ry="4.5" fill="none" stroke="#da5618" stroke-width="4.2"/>
<ellipse cx="854.0" cy="164.0" rx="5.5" ry="4.5" fill="none" stroke="#da5618" stroke-width="4.2"/>
<ellipse cx="863.2" cy="159.5" rx="5.5" ry="4.5" fill="none" stroke="#da5618" stroke-width="4.2"/>
<ellipse cx="857.0" cy="152.0" rx="5.5" ry="4.5" fill="none" stroke="#da5618" stroke-width="4.2"/>
<ellipse cx="876.8" cy="171.5" rx="5.5" ry="4.5" fill="none" stroke="#da5618" stroke-width="4.2"/>
<ellipse cx="871.5" cy="177.6" rx="5.5" ry="4.5" fill="none" stroke="#da5618" stroke-width="4.2"/>
<ellipse cx="889.0" cy="204.2" rx="5.5" ry="4.5" fill="none" stroke="#da5618" stroke-width="4.2"/>
<ellipse cx="901.5" cy="219.8" rx="5.5" ry="4.5" fill="none" stroke="#da5618" stroke-width="4.2"/>
<ellipse cx="910.0" cy="225.3" rx="5.5" ry="4.5" fill="none" stroke="#da5618" stroke-width="4.2"/>
<ellipse cx="916.7" cy="240.8" rx="5.5" ry="4.5" fill="none" stroke="#da5618" stroke-width="4.2"/>
<ellipse cx="833.6" cy="185.1" rx="5.5" ry="4.5" fill="none" stroke="#da5618" stroke-width="4.2"/>
<ellipse cx="838.2" cy="163.2" rx="5.5" ry="4.5" fill="none" stroke="#da5618" stroke-width="4.2"/>
<ellipse cx="804.2" cy="205.1" rx="5.5" ry="4.5" fill="none" stroke="#da5618" stroke-width="4.2"/>
<ellipse cx="822.3" cy="205.9" rx="5.5" ry="4.5" fill="none" stroke="#da5618" stroke-width="4.2"/>
<ellipse cx="806.8" cy="170.0" rx="5.5" ry="4.5" fill="none" stroke="#da5618" stroke-width="4.2"/>
<ellipse cx="803.0" cy="178.0" rx="5.5" ry="4.5" fill="none" stroke="#da5618" stroke-width="4.2"/>
<ellipse cx="810.0" cy="176.0" rx="5.5" ry="4.5" fill="none" stroke="#da5618" stroke-width="4.2"/>
<ellipse cx="818.0" cy="180.0" rx="5.5" ry="4.5" fill="none" stroke="#da5618" stroke-width="4.2"/>
<ellipse cx="823.0" cy="182.0" rx="5.5" ry="4.5" fill="none" stroke="#da5618" stroke-width="4.2"/>
<ellipse cx="806.0" cy="186.0" rx="5.5" ry="4.5" fill="none" stroke="#da5618" stroke-width="4.2"/>
<ellipse cx="814.0" cy="186.0" rx="5.5" ry="4.5" fill="none" stroke="#da5618" stroke-width="4.2"/>
<ellipse cx="809.0" cy="192.0" rx="5.5" ry="4.5" fill="none" stroke="#da5618" stroke-width="4.2"/>
<ellipse cx="800.0" cy="186.0" rx="5.5" ry="4.5" fill="none" stroke="#da5618" stroke-width="4.2"/>
<ellipse cx="822.0" cy="190.0" rx="5.5" ry="4.5" fill="none" stroke="#da5618" stroke-width="4.2"/>
<ellipse cx="800.0" cy="230.0" rx="5.5" ry="4.5" fill="none" stroke="#da5618" stroke-width="4.2"/>
<ellipse cx="810.0" cy="228.0" rx="5.5" ry="4.5" fill="none" stroke="#da5618" stroke-width="4.2"/>
<ellipse cx="806.0" cy="238.0" rx="5.5" ry="4.5" fill="none" stroke="#da5618" stroke-width="4.2"/>
<ellipse cx="798.0" cy="244.0" rx="5.5" ry="4.5" fill="none" stroke="#da5618" stroke-width="4.2"/>
<ellipse cx="812.0" cy="246.0" rx="5.5" ry="4.5" fill="none" stroke="#da5618" stroke-width="4.2"/>
<ellipse cx="818.0" cy="252.0" rx="5.5" ry="4.5" fill="none" stroke="#da5618" stroke-width="4.2"/>
<ellipse cx="820.0" cy="258.0" rx="5.5" ry="4.5" fill="none" stroke="#da5618" stroke-width="4.2"/>
<ellipse cx="800.0" cy="254.0" rx="5.5" ry="4.5" fill="none" stroke="#da5618" stroke-width="4.2"/>
<ellipse cx="806.0" cy="262.0" rx="5.5" ry="4.5" fill="none" stroke="#da5618" stroke-width="4.2"/>
<ellipse cx="814.0" cy="266.0" rx="5.5" ry="4.5" fill="none" stroke="#da5618" stroke-width="4.2"/>
<ellipse cx="808.0" cy="270.0" rx="5.5" ry="4.5" fill="none" stroke="#da5618" stroke-width="4.2"/>
<ellipse cx="798.0" cy="265.0" rx="5.5" ry="4.5" fill="none" stroke="#da5618" stroke-width="4.2"/>
<ellipse cx="797.0" cy="278.0" rx="5.5" ry="4.5" fill="none" stroke="#da5618" stroke-width="4.2"/>
<ellipse cx="805.0" cy="280.0" rx="5.5" ry="4.5" fill="none" stroke="#da5618" stroke-width="4.2"/>
<ellipse cx="795.0" cy="288.0" rx="5.5" ry="4.5" fill="none" stroke="#da5618" stroke-width="4.2"/>
<ellipse cx="812.0" cy="290.0" rx="5.5" ry="4.5" fill="none" stroke="#da5618" stroke-width="4.2"/>
<ellipse cx="818.0" cy="296.0" rx="5.5" ry="4.5" fill="none" stroke="#da5618" stroke-width="4.2"/>
<ellipse cx="812.0" cy="300.0" rx="5.5" ry="4.5" fill="none" stroke="#da5618" stroke-width="4.2"/>
<ellipse cx="796.0" cy="296.0" rx="5.5" ry="4.5" fill="none" stroke="#da5618" stroke-width="4.2"/>
<ellipse cx="798.0" cy="305.0" rx="5.5" ry="4.5" fill="none" stroke="#da5618" stroke-width="4.2"/>
<ellipse cx="795.7" cy="304.0" rx="5.5" ry="4.5" fill="none" stroke="#da5618" stroke-width="4.2"/>
<ellipse cx="794.7" cy="316.4" rx="5.5" ry="4.5" fill="none" stroke="#da5618" stroke-width="4.2"/>
<ellipse cx="793.7" cy="327.7" rx="5.5" ry="4.5" fill="none" stroke="#da5618" stroke-width="4.2"/>
<ellipse cx="793.7" cy="340.0" rx="5.5" ry="4.5" fill="none" stroke="#da5618" stroke-width="4.2"/>
<ellipse cx="792.7" cy="349.2" rx="5.5" ry="4.5" fill="none" stroke="#da5618" stroke-width="4.2"/>
<ellipse cx="791.6" cy="356.4" rx="5.5" ry="4.5" fill="none" stroke="#da5618" stroke-width="4.2"/>
<ellipse cx="790.6" cy="365.6" rx="5.5" ry="4.5" fill="none" stroke="#da5618" stroke-width="4.2"/>
<ellipse cx="789.6" cy="375.8" rx="5.5" ry="4.5" fill="none" stroke="#da5618" stroke-width="4.2"/>
<ellipse cx="787.5" cy="384.0" rx="5.5" ry="4.5" fill="none" stroke="#da5618" stroke-width="4.2"/>
<ellipse cx="786.5" cy="392.2" rx="5.5" ry="4.5" fill="none" stroke="#da5618" stroke-width="4.2"/>
<ellipse cx="785.5" cy="398.4" rx="5.5" ry="4.5" fill="none" stroke="#da5618" stroke-width="4.2"/>
<ellipse cx="785.5" cy="406.6" rx="5.5" ry="4.5" fill="none" stroke="#da5618" stroke-width="4.2"/>
<ellipse cx="784.5" cy="423.0" rx="5.5" ry="4.5" fill="none" stroke="#da5618" stroke-width="4.2"/>
<ellipse cx="782.4" cy="433.2" rx="5.5" ry="4.5" fill="none" stroke="#da5618" stroke-width="4.2"/>
<ellipse cx="781.4" cy="441.4" rx="5.5" ry="4.5" fill="none" stroke="#da5618" stroke-width="4.2"/>
<ellipse cx="779.3" cy="462.0" rx="5.5" ry="4.5" fill="none" stroke="#da5618" stroke-width="4.2"/>
<ellipse cx="779.3" cy="472.0" rx="5.5" ry="4.5" fill="none" stroke="#da5618" stroke-width="4.2"/>
<ellipse cx="779.3" cy="476.0" rx="5.5" ry="4.5" fill="none" stroke="#da5618" stroke-width="4.2"/>
<ellipse cx="786.0" cy="413.0" rx="5.5" ry="4.5" fill="none" stroke="#da5618" stroke-width="4.2"/>
<ellipse cx="783.0" cy="428.0" rx="5.5" ry="4.5" fill="none" stroke="#da5618" stroke-width="4.2"/>
<ellipse cx="780.0" cy="456.0" rx="5.5" ry="4.5" fill="none" stroke="#da5618" stroke-width="4.2"/>
<ellipse cx="904.6" cy="221.4" rx="5.5" ry="4.5" fill="none" stroke="#da5618" stroke-width="4.2"/>
<ellipse cx="918.8" cy="262.8" rx="5.5" ry="4.5" fill="none" stroke="#da5618" stroke-width="4.2"/>
<ellipse cx="924.0" cy="266.7" rx="5.5" ry="4.5" fill="none" stroke="#da5618" stroke-width="4.2"/>
<ellipse cx="930.5" cy="284.8" rx="5.5" ry="4.5" fill="none" stroke="#da5618" stroke-width="4.2"/>
<ellipse cx="933.1" cy="303.7" rx="5.5" ry="4.5" fill="none" stroke="#da5618" stroke-width="4.2"/>
<ellipse cx="938.2" cy="306.8" rx="5.5" ry="4.5" fill="none" stroke="#da5618" stroke-width="4.2"/>
<ellipse cx="943.4" cy="312.0" rx="5.5" ry="4.5" fill="none" stroke="#da5618" stroke-width="4.2"/>
<ellipse cx="946.8" cy="323.6" rx="5.5" ry="4.5" fill="none" stroke="#da5618" stroke-width="4.2"/>
<ellipse cx="946.0" cy="334.0" rx="5.5" ry="4.5" fill="none" stroke="#da5618" stroke-width="4.2"/>
<ellipse cx="952.5" cy="339.2" rx="5.5" ry="4.5" fill="none" stroke="#da5618" stroke-width="4.2"/>
<ellipse cx="957.6" cy="341.7" rx="5.5" ry="4.5" fill="none" stroke="#da5618" stroke-width="4.2"/>
<ellipse cx="964.1" cy="345.6" rx="5.5" ry="4.5" fill="none" stroke="#da5618" stroke-width="4.2"/>
<ellipse cx="968.0" cy="353.4" rx="5.5" ry="4.5" fill="none" stroke="#da5618" stroke-width="4.2"/>
<ellipse cx="970.6" cy="366.3" rx="5.5" ry="4.5" fill="none" stroke="#da5618" stroke-width="4.2"/>
<ellipse cx="977.0" cy="370.2" rx="5.5" ry="4.5" fill="none" stroke="#da5618" stroke-width="4.2"/>
<ellipse cx="983.5" cy="374.1" rx="5.5" ry="4.5" fill="none" stroke="#da5618" stroke-width="4.2"/>
<ellipse cx="988.7" cy="372.8" rx="5.5" ry="4.5" fill="none" stroke="#da5618" stroke-width="4.2"/>
<ellipse cx="993.9" cy="379.3" rx="5.5" ry="4.5" fill="none" stroke="#da5618" stroke-width="4.2"/>
<ellipse cx="991.3" cy="384.4" rx="5.5" ry="4.5" fill="none" stroke="#da5618" stroke-width="4.2"/>
<ellipse cx="993.9" cy="392.2" rx="5.5" ry="4.5" fill="none" stroke="#da5618" stroke-width="4.2"/>
<ellipse cx="1000.3" cy="400.0" rx="5.5" ry="4.5" fill="none" stroke="#da5618" stroke-width="4.2"/>
<ellipse cx="1001.6" cy="380.6" rx="5.5" ry="4.5" fill="none" stroke="#da5618" stroke-width="4.2"/>
<ellipse cx="997.0" cy="388.0" rx="5.5" ry="4.5" fill="none" stroke="#da5618" stroke-width="4.2"/>
<ellipse cx="985.0" cy="378.0" rx="5.5" ry="4.5" fill="none" stroke="#da5618" stroke-width="4.2"/>
<ellipse cx="774.1" cy="560.9" rx="5.5" ry="4.5" fill="none" stroke="#1f6cb0" stroke-width="4.2"/>
<ellipse cx="784.6" cy="551.7" rx="5.5" ry="4.5" fill="none" stroke="#1f6cb0" stroke-width="4.2"/>
<ellipse cx="796.6" cy="574.9" rx="5.5" ry="4.5" fill="none" stroke="#1f6cb0" stroke-width="4.2"/>
<ellipse cx="805.7" cy="563.0" rx="5.5" ry="4.5" fill="none" stroke="#1f6cb0" stroke-width="4.2"/>
<ellipse cx="814.0" cy="566.7" rx="5.5" ry="4.5" fill="none" stroke="#1f6cb0" stroke-width="4.2"/>
<ellipse cx="822.5" cy="572.0" rx="5.5" ry="4.5" fill="none" stroke="#1f6cb0" stroke-width="4.2"/>
<ellipse cx="825.3" cy="569.3" rx="5.5" ry="4.5" fill="none" stroke="#1f6cb0" stroke-width="4.2"/>
<ellipse cx="833.7" cy="570.7" rx="5.5" ry="4.5" fill="none" stroke="#1f6cb0" stroke-width="4.2"/>
<ellipse cx="867.3" cy="581.2" rx="5.5" ry="4.5" fill="none" stroke="#1f6cb0" stroke-width="4.2"/>
<ellipse cx="874.7" cy="578.4" rx="5.5" ry="4.5" fill="none" stroke="#1f6cb0" stroke-width="4.2"/>
<ellipse cx="882.0" cy="583.9" rx="5.5" ry="4.5" fill="none" stroke="#1f6cb0" stroke-width="4.2"/>
<ellipse cx="893.9" cy="577.5" rx="5.5" ry="4.5" fill="none" stroke="#1f6cb0" stroke-width="4.2"/>
<ellipse cx="900.3" cy="575.7" rx="5.5" ry="4.5" fill="none" stroke="#1f6cb0" stroke-width="4.2"/>
<ellipse cx="904.0" cy="572.9" rx="5.5" ry="4.5" fill="none" stroke="#1f6cb0" stroke-width="4.2"/>
<ellipse cx="911.3" cy="573.8" rx="5.5" ry="4.5" fill="none" stroke="#1f6cb0" stroke-width="4.2"/>
<ellipse cx="916.8" cy="575.7" rx="5.5" ry="4.5" fill="none" stroke="#1f6cb0" stroke-width="4.2"/>
<ellipse cx="927.9" cy="568.3" rx="5.5" ry="4.5" fill="none" stroke="#1f6cb0" stroke-width="4.2"/>
<ellipse cx="933.4" cy="567.4" rx="5.5" ry="4.5" fill="none" stroke="#1f6cb0" stroke-width="4.2"/>
<ellipse cx="937.0" cy="568.3" rx="5.5" ry="4.5" fill="none" stroke="#1f6cb0" stroke-width="4.2"/>
<ellipse cx="942.5" cy="570.2" rx="5.5" ry="4.5" fill="none" stroke="#1f6cb0" stroke-width="4.2"/>
<ellipse cx="948.0" cy="566.5" rx="5.5" ry="4.5" fill="none" stroke="#1f6cb0" stroke-width="4.2"/>
<ellipse cx="962.7" cy="573.8" rx="5.5" ry="4.5" fill="none" stroke="#1f6cb0" stroke-width="4.2"/>
<ellipse cx="975.5" cy="564.7" rx="5.5" ry="4.5" fill="none" stroke="#1f6cb0" stroke-width="4.2"/>
<ellipse cx="986.5" cy="568.3" rx="5.5" ry="4.5" fill="none" stroke="#1f6cb0" stroke-width="4.2"/>
<ellipse cx="997.5" cy="571.1" rx="5.5" ry="4.5" fill="none" stroke="#1f6cb0" stroke-width="4.2"/>
<ellipse cx="776.9" cy="619.8" rx="5.5" ry="4.5" fill="none" stroke="#e8a822" stroke-width="4.2"/>
<ellipse cx="786.0" cy="614.2" rx="5.5" ry="4.5" fill="none" stroke="#e8a822" stroke-width="4.2"/>
<ellipse cx="798.0" cy="610.6" rx="5.5" ry="4.5" fill="none" stroke="#e8a822" stroke-width="4.2"/>
<ellipse cx="805.7" cy="638.0" rx="5.5" ry="4.5" fill="none" stroke="#e8a822" stroke-width="4.2"/>
<ellipse cx="815.5" cy="635.9" rx="5.5" ry="4.5" fill="none" stroke="#e8a822" stroke-width="4.2"/>
<ellipse cx="820.4" cy="644.3" rx="5.5" ry="4.5" fill="none" stroke="#e8a822" stroke-width="4.2"/>
<ellipse cx="826.7" cy="636.6" rx="5.5" ry="4.5" fill="none" stroke="#e8a822" stroke-width="4.2"/>
<ellipse cx="836.5" cy="633.8" rx="5.5" ry="4.5" fill="none" stroke="#e8a822" stroke-width="4.2"/>
<ellipse cx="869.2" cy="647.2" rx="5.5" ry="4.5" fill="none" stroke="#e8a822" stroke-width="4.2"/>
<ellipse cx="874.7" cy="649.0" rx="5.5" ry="4.5" fill="none" stroke="#e8a822" stroke-width="4.2"/>
<ellipse cx="880.2" cy="650.9" rx="5.5" ry="4.5" fill="none" stroke="#e8a822" stroke-width="4.2"/>
<ellipse cx="894.8" cy="648.1" rx="5.5" ry="4.5" fill="none" stroke="#e8a822" stroke-width="4.2"/>
<ellipse cx="904.0" cy="650.0" rx="5.5" ry="4.5" fill="none" stroke="#e8a822" stroke-width="4.2"/>
<ellipse cx="907.7" cy="657.3" rx="5.5" ry="4.5" fill="none" stroke="#e8a822" stroke-width="4.2"/>
<ellipse cx="918.7" cy="658.2" rx="5.5" ry="4.5" fill="none" stroke="#e8a822" stroke-width="4.2"/>
<ellipse cx="929.7" cy="658.2" rx="5.5" ry="4.5" fill="none" stroke="#e8a822" stroke-width="4.2"/>
<ellipse cx="937.0" cy="650.9" rx="5.5" ry="4.5" fill="none" stroke="#e8a822" stroke-width="4.2"/>
<ellipse cx="940.7" cy="652.7" rx="5.5" ry="4.5" fill="none" stroke="#e8a822" stroke-width="4.2"/>
<ellipse cx="949.9" cy="650.9" rx="5.5" ry="4.5" fill="none" stroke="#e8a822" stroke-width="4.2"/>
<ellipse cx="964.5" cy="647.2" rx="5.5" ry="4.5" fill="none" stroke="#e8a822" stroke-width="4.2"/>
<ellipse cx="977.4" cy="645.4" rx="5.5" ry="4.5" fill="none" stroke="#e8a822" stroke-width="4.2"/>
<ellipse cx="988.4" cy="643.5" rx="5.5" ry="4.5" fill="none" stroke="#e8a822" stroke-width="4.2"/>
<ellipse cx="997.5" cy="644.4" rx="5.5" ry="4.5" fill="none" stroke="#e8a822" stroke-width="4.2"/>
<ellipse cx="778.0" cy="707.3" rx="5.5" ry="4.5" fill="none" stroke="#b0152e" stroke-width="4.2"/>
<ellipse cx="786.9" cy="700.5" rx="5.5" ry="4.5" fill="none" stroke="#b0152e" stroke-width="4.2"/>
<ellipse cx="797.0" cy="708.0" rx="5.5" ry="4.5" fill="none" stroke="#b0152e" stroke-width="4.2"/>
<ellipse cx="806.0" cy="709.0" rx="5.5" ry="4.5" fill="none" stroke="#b0152e" stroke-width="4.2"/>
<ellipse cx="815.0" cy="708.0" rx="5.5" ry="4.5" fill="none" stroke="#b0152e" stroke-width="4.2"/>
<ellipse cx="825.0" cy="707.0" rx="5.5" ry="4.5" fill="none" stroke="#b0152e" stroke-width="4.2"/>
<ellipse cx="832.0" cy="706.0" rx="5.5" ry="4.5" fill="none" stroke="#b0152e" stroke-width="4.2"/>
<ellipse cx="841.5" cy="703.2" rx="5.5" ry="4.5" fill="none" stroke="#b0152e" stroke-width="4.2"/>
<ellipse cx="867.3" cy="707.7" rx="5.5" ry="4.5" fill="none" stroke="#b0152e" stroke-width="4.2"/>
<ellipse cx="874.0" cy="707.0" rx="5.5" ry="4.5" fill="none" stroke="#b0152e" stroke-width="4.2"/>
<ellipse cx="880.2" cy="706.8" rx="5.5" ry="4.5" fill="none" stroke="#b0152e" stroke-width="4.2"/>
<ellipse cx="887.0" cy="708.0" rx="5.5" ry="4.5" fill="none" stroke="#b0152e" stroke-width="4.2"/>
<ellipse cx="894.8" cy="709.5" rx="5.5" ry="4.5" fill="none" stroke="#b0152e" stroke-width="4.2"/>
<ellipse cx="905.8" cy="706.8" rx="5.5" ry="4.5" fill="none" stroke="#b0152e" stroke-width="4.2"/>
<ellipse cx="911.3" cy="705.9" rx="5.5" ry="4.5" fill="none" stroke="#b0152e" stroke-width="4.2"/>
<ellipse cx="920.5" cy="703.1" rx="5.5" ry="4.5" fill="none" stroke="#b0152e" stroke-width="4.2"/>
<ellipse cx="927.9" cy="704.0" rx="5.5" ry="4.5" fill="none" stroke="#b0152e" stroke-width="4.2"/>
<ellipse cx="933.4" cy="705.0" rx="5.5" ry="4.5" fill="none" stroke="#b0152e" stroke-width="4.2"/>
<ellipse cx="939.0" cy="705.5" rx="5.5" ry="4.5" fill="none" stroke="#b0152e" stroke-width="4.2"/>
<ellipse cx="944.4" cy="705.9" rx="5.5" ry="4.5" fill="none" stroke="#b0152e" stroke-width="4.2"/>
<ellipse cx="951.7" cy="707.7" rx="5.5" ry="4.5" fill="none" stroke="#b0152e" stroke-width="4.2"/>
<ellipse cx="966.4" cy="705.9" rx="5.5" ry="4.5" fill="none" stroke="#b0152e" stroke-width="4.2"/>
<ellipse cx="977.4" cy="706.8" rx="5.5" ry="4.5" fill="none" stroke="#b0152e" stroke-width="4.2"/>
<ellipse cx="988.4" cy="705.0" rx="5.5" ry="4.5" fill="none" stroke="#b0152e" stroke-width="4.2"/>
<ellipse cx="999.4" cy="707.7" rx="5.5" ry="4.5" fill="none" stroke="#b0152e" stroke-width="4.2"/>
<ellipse cx="773.0" cy="758.0" rx="5.5" ry="4.5" fill="none" stroke="#7ab43a" stroke-width="4.2"/>
<ellipse cx="780.0" cy="760.0" rx="5.5" ry="4.5" fill="none" stroke="#7ab43a" stroke-width="4.2"/>
<ellipse cx="787.0" cy="762.0" rx="5.5" ry="4.5" fill="none" stroke="#7ab43a" stroke-width="4.2"/>
<ellipse cx="795.0" cy="761.0" rx="5.5" ry="4.5" fill="none" stroke="#7ab43a" stroke-width="4.2"/>
<ellipse cx="802.0" cy="763.0" rx="5.5" ry="4.5" fill="none" stroke="#7ab43a" stroke-width="4.2"/>
<ellipse cx="809.0" cy="762.0" rx="5.5" ry="4.5" fill="none" stroke="#7ab43a" stroke-width="4.2"/>
<ellipse cx="816.0" cy="761.0" rx="5.5" ry="4.5" fill="none" stroke="#7ab43a" stroke-width="4.2"/>
<ellipse cx="823.0" cy="760.0" rx="5.5" ry="4.5" fill="none" stroke="#7ab43a" stroke-width="4.2"/>
<ellipse cx="832.0" cy="759.0" rx="5.5" ry="4.5" fill="none" stroke="#7ab43a" stroke-width="4.2"/>
<ellipse cx="836.0" cy="760.0" rx="5.5" ry="4.5" fill="none" stroke="#7ab43a" stroke-width="4.2"/>
<ellipse cx="841.0" cy="760.0" rx="5.5" ry="4.5" fill="none" stroke="#7ab43a" stroke-width="4.2"/>
<ellipse cx="846.0" cy="760.0" rx="5.5" ry="4.5" fill="none" stroke="#7ab43a" stroke-width="4.2"/>
<ellipse cx="852.0" cy="761.0" rx="5.5" ry="4.5" fill="none" stroke="#7ab43a" stroke-width="4.2"/>
<ellipse cx="857.0" cy="760.0" rx="5.5" ry="4.5" fill="none" stroke="#7ab43a" stroke-width="4.2"/>
<ellipse cx="864.0" cy="760.0" rx="5.5" ry="4.5" fill="none" stroke="#7ab43a" stroke-width="4.2"/>
<ellipse cx="870.0" cy="760.0" rx="5.5" ry="4.5" fill="none" stroke="#7ab43a" stroke-width="4.2"/>
<ellipse cx="876.0" cy="760.0" rx="5.5" ry="4.5" fill="none" stroke="#7ab43a" stroke-width="4.2"/>
<ellipse cx="882.0" cy="760.0" rx="5.5" ry="4.5" fill="none" stroke="#7ab43a" stroke-width="4.2"/>
<ellipse cx="890.0" cy="761.0" rx="5.5" ry="4.5" fill="none" stroke="#7ab43a" stroke-width="4.2"/>
<ellipse cx="902.0" cy="760.0" rx="5.5" ry="4.5" fill="none" stroke="#7ab43a" stroke-width="4.2"/>
<ellipse cx="915.0" cy="761.0" rx="5.5" ry="4.5" fill="none" stroke="#7ab43a" stroke-width="4.2"/>
<ellipse cx="928.0" cy="760.0" rx="5.5" ry="4.5" fill="none" stroke="#7ab43a" stroke-width="4.2"/>
<ellipse cx="941.0" cy="760.0" rx="5.5" ry="4.5" fill="none" stroke="#7ab43a" stroke-width="4.2"/>
<ellipse cx="954.0" cy="760.0" rx="5.5" ry="4.5" fill="none" stroke="#7ab43a" stroke-width="4.2"/>
<ellipse cx="967.0" cy="759.0" rx="5.5" ry="4.5" fill="none" stroke="#7ab43a" stroke-width="4.2"/>
<ellipse cx="980.0" cy="759.0" rx="5.5" ry="4.5" fill="none" stroke="#7ab43a" stroke-width="4.2"/>
<ellipse cx="992.0" cy="758.0" rx="5.5" ry="4.5" fill="none" stroke="#7ab43a" stroke-width="4.2"/>
<ellipse cx="1000.0" cy="757.0" rx="5.5" ry="4.5" fill="none" stroke="#7ab43a" stroke-width="4.2"/>
</g>
<text x="824.5" y="254.3" font-size="27.0" style="" fill="#a8121e" >ν = -2</text>
<text x="794.4" y="545.4" font-size="27.0" style="" fill="#1f6cb0" >ν = -4</text>
<text x="811.3" y="615.3" font-size="27.0" style="" fill="#e8a822" >ν = 0</text>
<text x="787.5" y="689.0" font-size="27.0" style="" fill="#a8121e" >ν = 4</text>
<text x="787.5" y="741.7" font-size="27.0" style="" fill="#86b84e" >ν = 2</text>
<rect x="770" y="97" width="231.6" height="714.5" fill="none" stroke="#000" stroke-width="4"/>
<line x1="772" y1="276" x2="787.5" y2="276" stroke="#000" stroke-width="4"/>
<line x1="772" y1="453" x2="787.5" y2="453" stroke="#000" stroke-width="4"/>
<line x1="772" y1="644.2" x2="787.5" y2="644.2" stroke="#000" stroke-width="4"/>
<line x1="831.4" y1="810" x2="831.4" y2="803.5" stroke="#000" stroke-width="4"/>
<line x1="898.6" y1="810" x2="898.6" y2="803.5" stroke="#000" stroke-width="4"/>
<line x1="965.3" y1="810" x2="965.3" y2="803.5" stroke="#000" stroke-width="4"/>
</svg></body></html>
